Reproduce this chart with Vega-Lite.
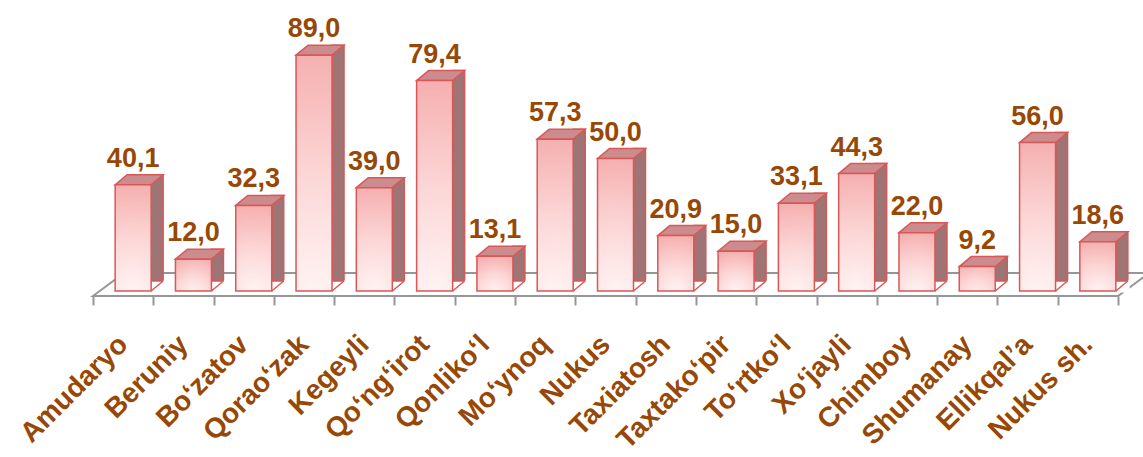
{
  "$schema": "https://vega.github.io/schema/vega-lite/v6.json",
  "autosize": {"type": "none"},
  "padding": {"left": 93, "top": 26, "right": 25, "bottom": 166},
  "width": 1025,
  "height": 265,
  "background": "white",
  "config": {
    "view": {"stroke": null},
    "locale": {"number": {"decimal": ",", "thousands": " ", "grouping": [3], "currency": ["", ""]}}
  },
  "data": {
    "values": [
      {"tuman": "Amudaryo", "qiymat": 40.1},
      {"tuman": "Beruniy", "qiymat": 12.0},
      {"tuman": "Boʻzatov", "qiymat": 32.3},
      {"tuman": "Qoraoʻzak", "qiymat": 89.0},
      {"tuman": "Kegeyli", "qiymat": 39.0},
      {"tuman": "Qoʻngʻirot", "qiymat": 79.4},
      {"tuman": "Qonlikoʻl", "qiymat": 13.1},
      {"tuman": "Moʻynoq", "qiymat": 57.3},
      {"tuman": "Nukus", "qiymat": 50.0},
      {"tuman": "Taxiatosh", "qiymat": 20.9},
      {"tuman": "Taxtakoʻpir", "qiymat": 15.0},
      {"tuman": "Toʻrtkoʻl", "qiymat": 33.1},
      {"tuman": "Xoʻjayli", "qiymat": 44.3},
      {"tuman": "Chimboy", "qiymat": 22.0},
      {"tuman": "Shumanay", "qiymat": 9.2},
      {"tuman": "Ellikqalʼa", "qiymat": 56.0},
      {"tuman": "Nukus sh.", "qiymat": 18.6}
    ]
  },
  "encoding": {
    "x": {
      "field": "tuman",
      "type": "nominal",
      "sort": null,
      "scale": {"paddingInner": 0, "paddingOuter": 0},
      "axis": {
        "title": null,
        "orient": "bottom",
        "offset": 5,
        "domain": false,
        "ticks": true,
        "tickBand": "extent",
        "tickSize": 9,
        "tickColor": "#969696",
        "tickWidth": 2,
        "labelAngle": -45,
        "labelAlign": "right",
        "labelBaseline": "middle",
        "labelPadding": 35,
        "labelFont": "Liberation Sans",
        "labelFontSize": 28,
        "labelFontWeight": "bold",
        "labelColor": "#974806",
        "labelLimit": 0,
        "labelOverlap": false,
        "labelBound": false,
        "grid": false
      }
    }
  },
  "layer": [
    {
      "transform": [{"filter": "datum.tuman == 'Amudaryo'"}],
      "mark": {
        "type": "point",
        "shape": "M-30.15,5L0.85,-18L1025.85,-18L994.85,5Z",
        "size": 4,
        "filled": false,
        "stroke": "#969696",
        "strokeWidth": 2,
        "opacity": 1
      },
      "encoding": {
        "y": {"datum": 0, "type": "quantitative", "scale": {"domain": [0, 100]}, "axis": null}
      }
    },
    {
      "mark": {
        "type": "bar",
        "width": 12,
        "xOffset": 34,
        "yOffset": -10,
        "y2Offset": 0,
        "fill": "#9e7474",
        "stroke": "#d95757",
        "strokeWidth": 1.5
      },
      "encoding": {
        "y": {"field": "qiymat", "type": "quantitative", "scale": {"domain": [0, 100]}, "axis": null}
      }
    },
    {
      "mark": {
        "type": "point",
        "shape": "M27,0.83L41.8,-11.5L41.8,1.6L27,1.6Z",
        "size": 4,
        "filled": true,
        "fill": "white",
        "strokeWidth": 0,
        "opacity": 1
      },
      "encoding": {
        "y": {"datum": 0, "type": "quantitative"}
      }
    },
    {
      "mark": {
        "type": "point",
        "shape": "M28,0L40,-10",
        "size": 4,
        "filled": false,
        "stroke": "#d95757",
        "strokeWidth": 1.5,
        "opacity": 1
      },
      "encoding": {
        "y": {"datum": 0, "type": "quantitative"}
      }
    },
    {
      "mark": {
        "type": "point",
        "shape": "M-8,0L4,-10L40,-10L28,0Z",
        "size": 4,
        "filled": true,
        "fill": "#cc8c8d",
        "stroke": "#d95757",
        "strokeWidth": 1.5,
        "opacity": 1
      },
      "encoding": {
        "y": {"field": "qiymat", "type": "quantitative"}
      }
    },
    {
      "mark": {
        "type": "bar",
        "width": 36,
        "xOffset": 10,
        "stroke": "#d95757",
        "strokeWidth": 1.5,
        "fill": {
          "gradient": "radial",
          "x1": 0.5, "y1": 1, "r1": 0,
          "x2": 0.5, "y2": 1, "r2": 1.1,
          "stops": [
            {"offset": 0, "color": "#fff3f3"},
            {"offset": 0.45, "color": "#fcd6d6"},
            {"offset": 1, "color": "#f4a8a8"}
          ]
        }
      },
      "encoding": {
        "y": {"field": "qiymat", "type": "quantitative"}
      }
    },
    {
      "mark": {
        "type": "text",
        "xOffset": 10,
        "dy": -18,
        "baseline": "alphabetic",
        "align": "center",
        "font": "Liberation Sans",
        "fontSize": 27,
        "fontWeight": "bold",
        "fill": "#974806"
      },
      "encoding": {
        "y": {"field": "qiymat", "type": "quantitative"},
        "text": {"field": "qiymat", "type": "quantitative", "format": ".1f"}
      }
    }
  ]
}
